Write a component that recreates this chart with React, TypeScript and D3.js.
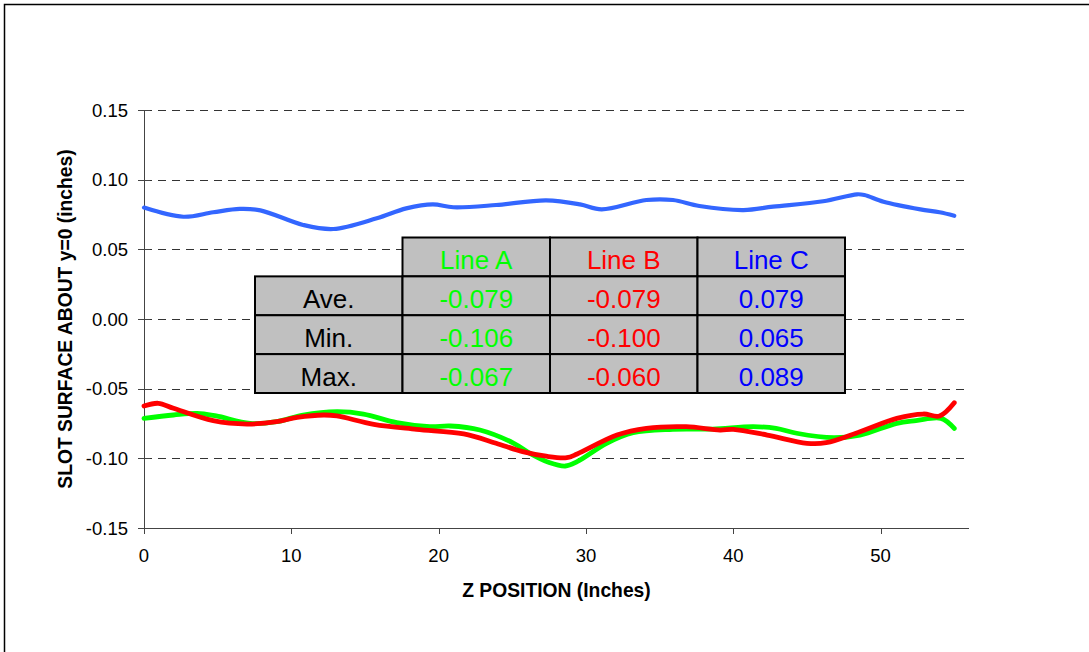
import React, { useEffect, useRef } from 'react';
import * as d3 from 'd3';

// [z position (in), surface (in)]
const lineA: [number, number][] = [
  [0, -0.0713], [2, -0.0689], [3.6, -0.0677], [4.9, -0.0696], [7.2, -0.0749], [9, -0.0737],
  [10.8, -0.0689], [13.1, -0.0665], [14.9, -0.0682], [17.15, -0.0744], [19.4, -0.0773],
  [20.8, -0.0768], [22.8, -0.0797], [25.1, -0.0892], [26.2, -0.0964], [27.5, -0.103],
  [28.6, -0.1055], [29.4, -0.1024], [31.4, -0.0892], [33.2, -0.0816], [35.9, -0.0792],
  [38.6, -0.079], [41.35, -0.0773], [42.9, -0.0785], [44.3, -0.082], [46.8, -0.0852],
  [48.6, -0.0833], [51.1, -0.0749], [52.4, -0.073], [54.1, -0.0713], [55, -0.0785],
];
const lineB: [number, number][] = [
  [0, -0.0625], [0.97, -0.0605], [2, -0.0641], [4.7, -0.073], [7, -0.0754], [9, -0.0737],
  [10.4, -0.0706], [12.2, -0.0689], [13.1, -0.0696], [15.6, -0.0756], [18.5, -0.0792],
  [21.7, -0.0825], [23.9, -0.0892], [25.7, -0.0952], [27.3, -0.0985], [28.7, -0.0995],
  [29.4, -0.0969], [32.1, -0.0833], [34.1, -0.0785], [36.8, -0.0773], [39.1, -0.0797],
  [40, -0.0792], [42.3, -0.0833], [45, -0.0892], [46.3, -0.0888], [48.6, -0.0809],
  [51.1, -0.0713], [52.9, -0.0682], [54, -0.0696], [55, -0.0601],
];
const lineC: [number, number][] = [
  [0, 0.0800], [2.67, 0.0734], [4.7, 0.0766], [6.5, 0.079], [7.9, 0.078], [10.8, 0.0675],
  [12.85, 0.0646], [15.8, 0.0723], [17.8, 0.0794], [19.6, 0.0823], [21, 0.0802],
  [23.9, 0.0818], [27.3, 0.0852], [29.6, 0.0823], [31.06, 0.0787], [34.1, 0.0854],
  [35.9, 0.0854], [37.7, 0.0811], [40.7, 0.0782], [42.7, 0.0806], [46.1, 0.0845],
  [48.4, 0.0895], [48.9, 0.089], [50.2, 0.0842], [52.7, 0.0787], [54, 0.0766], [55, 0.0741],
];

const seriesNames = ['Line A', 'Line B', 'Line C'];
const seriesColors = ['#00ff00', '#ff0000', '#3366ff'];
const tableTextColors = ['#00ff00', '#ff0000', '#0000ff'];

const statNames = ['Ave.', 'Min.', 'Max.'];
const aveVals = ['-0.079', '-0.079', '0.079'];
const minVals = ['-0.106', '-0.100', '0.065'];
const maxVals = ['-0.067', '-0.060', '0.089'];

const xTicks = [0, 10, 20, 30, 40, 50];
const yTicks = [-0.15, -0.1, -0.05, 0, 0.05, 0.1, 0.15];

const FONT = '"Liberation Sans", Arial, sans-serif';

const App: React.FC = () => {
  const svgRef = useRef<SVGSVGElement | null>(null);

  useEffect(() => {
    const W = 1089, H = 652;
    const svg = d3.select(svgRef.current).attr('width', W).attr('height', H);
    svg.selectAll('*').remove();

    const fmt = d3.formatLocale({ decimal: '.', thousands: ',', grouping: [3], currency: ['$', ''], minus: '-' }).format('.2f');

    const x = d3.scaleLinear().domain([0, 56]).range([144, 969]);
    const y = d3.scaleLinear().domain([-0.15, 0.15]).range([528, 110]);

    svg.append('rect').attr('width', W).attr('height', H).attr('fill', 'white');
    // outer chart frame (runs off the right/bottom edge)
    svg.append('rect')
      .attr('x', 4.5).attr('y', 4.5).attr('width', W + 20).attr('height', H + 20)
      .attr('fill', 'none').attr('stroke', 'black').attr('stroke-width', 1.5);

    // gridlines
    svg.append('g').selectAll('line')
      .data(yTicks.filter(t => t > -0.15))
      .enter().append('line')
      .attr('x1', x(0)).attr('x2', x(56))
      .attr('y1', d => Math.round(y(d)) + 0.5).attr('y2', d => Math.round(y(d)) + 0.5)
      .attr('stroke', '#333').attr('stroke-dasharray', '8,6');

    // y axis
    const yAx = svg.append('g');
    yAx.append('line')
      .attr('x1', x(0) + 0.5).attr('x2', x(0) + 0.5)
      .attr('y1', y(0.15)).attr('y2', y(-0.15))
      .attr('stroke', '#444');
    yAx.selectAll('.yt').data(yTicks).enter().append('line')
      .attr('x1', x(0) - 6).attr('x2', x(0) + 6)
      .attr('y1', d => Math.round(y(d)) + 0.5).attr('y2', d => Math.round(y(d)) + 0.5)
      .attr('stroke', '#444');
    yAx.selectAll('text').data(yTicks).enter().append('text')
      .attr('x', 128).attr('y', d => y(d) + 6.5)
      .attr('text-anchor', 'end')
      .style('font', `18.5px ${FONT}`).attr('fill', 'black')
      .text(d => fmt(d));

    // x axis
    const xAx = svg.append('g');
    xAx.append('line')
      .attr('x1', x(0)).attr('x2', x(56))
      .attr('y1', Math.round(y(-0.15)) + 0.5).attr('y2', Math.round(y(-0.15)) + 0.5)
      .attr('stroke', '#444').attr('stroke-width', 1.2);
    xAx.selectAll('.xt').data(xTicks).enter().append('line')
      .attr('x1', d => Math.round(x(d)) + 0.5).attr('x2', d => Math.round(x(d)) + 0.5)
      .attr('y1', y(-0.15)).attr('y2', y(-0.15) + 6)
      .attr('stroke', '#444');
    xAx.selectAll('text').data(xTicks).enter().append('text')
      .attr('x', d => x(d)).attr('y', 562)
      .attr('text-anchor', 'middle')
      .style('font', `18.5px ${FONT}`).attr('fill', 'black')
      .text(d => String(d));

    // axis titles
    svg.append('text')
      .attr('x', (x(0) + x(56)) / 2).attr('y', 597)
      .attr('text-anchor', 'middle')
      .style('font', `bold 19.3px ${FONT}`)
      .text('Z POSITION (Inches)');
    svg.append('text')
      .attr('transform', `translate(72,319) rotate(-90)`)
      .attr('text-anchor', 'middle')
      .style('font', `bold 19.3px ${FONT}`)
      .text('SLOT SURFACE ABOUT y=0 (inches)');

    // lines
    const line = d3.line<[number, number]>()
      .x(d => x(d[0])).y(d => y(d[1]))
      .curve(d3.curveCatmullRom.alpha(0.5));
    [lineC, lineA, lineB].forEach((s, i) => {
      const idx = [2, 0, 1][i];
      svg.append('path')
        .attr('d', line(s) || '')
        .attr('fill', 'none')
        .attr('stroke', seriesColors[idx])
        .attr('stroke-width', idx === 2 ? 4.2 : 4.8)
        .attr('stroke-linecap', 'round')
        .attr('stroke-linejoin', 'round');
    });

    // stats table
    const cols = d3.scaleBand<string>().domain(['', ...seriesNames]).range([255, 845]);
    const rows = d3.scaleBand<string>().domain(['', ...statNames]).range([237.5, 393]);
    const values = [aveVals, minVals, maxVals];
    const tbl = svg.append('g');
    const cell = (cx: number, cy: number) =>
      tbl.append('rect')
        .attr('x', cx).attr('y', cy)
        .attr('width', cols.bandwidth()).attr('height', rows.bandwidth())
        .attr('fill', '#c0c0c0').attr('stroke', 'black').attr('stroke-width', 2);
    const label = (cx: number, cy: number, t: string, c: string) =>
      tbl.append('text')
        .attr('x', cx + cols.bandwidth() / 2).attr('y', cy + rows.bandwidth() - 7)
        .attr('text-anchor', 'middle')
        .style('font', `26px ${FONT}`).attr('fill', c)
        .text(t);

    seriesNames.forEach((n, i) => {
      const cx = cols(n)!;
      cell(cx, rows('')!);
      label(cx, rows('')!, n, tableTextColors[i]);
    });
    statNames.forEach((r, j) => {
      const cy = rows(r)!;
      cell(cols('')!, cy);
      label(cols('')!, cy, r, 'black');
      seriesNames.forEach((n, i) => {
        cell(cols(n)!, cy);
        label(cols(n)!, cy, values[j][i], tableTextColors[i]);
      });
    });
  }, []);

  return (
    <div style={{ position: 'absolute', left: 0, top: 0 }}>
      <svg ref={svgRef}></svg>
    </div>
  );
};

export default App;
